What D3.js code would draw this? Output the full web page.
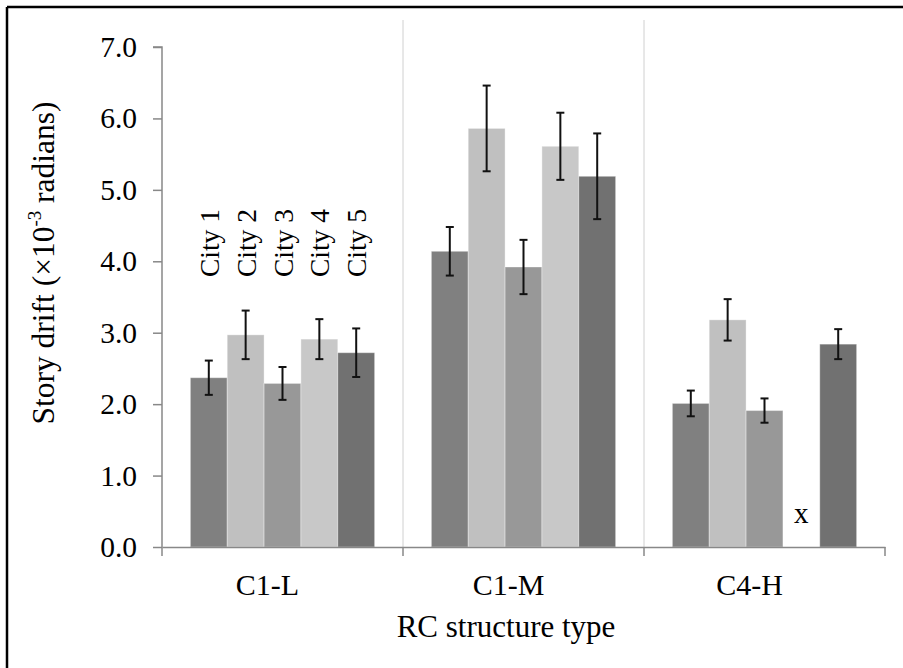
<!DOCTYPE html>
<html>
<head>
<meta charset="utf-8">
<script src="https://cdn.jsdelivr.net/npm/d3@7"></script>
<style>
  html, body { margin: 0; padding: 0; background: #fff; }
  svg { display: block; }
  text { font-family: "Liberation Serif", "Times New Roman", serif; fill: #000; }
</style>
</head>
<body>
<svg id="chart" width="903" height="668"></svg>
<script>
// ---- data ----
const categories = ["C1-L", "C1-M", "C4-H"];
const cities = ["City 1", "City 2", "City 3", "City 4", "City 5"];
// mean story drift (x10^-3 rad), null = no data ("x")
const city1 = [2.37, 4.14, 2.01];
const city2 = [2.97, 5.86, 3.18];
const city3 = [2.29, 3.92, 1.91];
const city4 = [2.91, 5.61, null];
const city5 = [2.72, 5.19, 2.84];
// error bar half-widths
const err1 = [0.24, 0.34, 0.18];
const err2 = [0.34, 0.60, 0.29];
const err3 = [0.23, 0.38, 0.17];
const err4 = [0.28, 0.47, null];
const err5 = [0.34, 0.60, 0.21];
const yTicks = [0, 1, 2, 3, 4, 5, 6, 7];
const cityColors = ["#808080", "#c0c0c0", "#989898", "#c8c8c8", "#717171"];

const values = [city1, city2, city3, city4, city5];
const errors = [err1, err2, err3, err4, err5];

const rows = [];
categories.forEach((cat, ci) => {
  cities.forEach((city, si) => {
    rows.push({ cat, city, si, v: values[si][ci], e: errors[si][ci] });
  });
});

const svg = d3.select("#chart");
const serif = '"Liberation Serif", "Times New Roman", serif';

// frame (left & top edges visible)
svg.append("line").attr("x1", 7).attr("y1", 7).attr("x2", 903).attr("y2", 7)
  .attr("stroke", "#000").attr("stroke-width", 2.5);
svg.append("line").attr("x1", 7).attr("y1", 7).attr("x2", 7).attr("y2", 668)
  .attr("stroke", "#000").attr("stroke-width", 2.5);

const pLeft = 162, pRight = 885, pTop = 47, pBottom = 547;

const x = d3.scaleBand().domain(categories).range([pLeft, pRight]).paddingInner(0).paddingOuter(0);
const xc = d3.scaleBand().domain(cities).range([0, x.bandwidth()]).paddingInner(0).paddingOuter(0.77);
const y = d3.scaleLinear().domain([0, 7]).range([pBottom, pTop]);

// vertical separators between categories
svg.append("g").selectAll("line")
  .data(categories.slice(1))
  .join("line")
  .attr("x1", d => x(d)).attr("x2", d => x(d))
  .attr("y1", 20).attr("y2", pBottom)
  .attr("stroke", "#d0d0d0").attr("stroke-width", 1);

// bars
const valid = rows.filter(r => r.v != null);
svg.append("g").selectAll("rect")
  .data(valid)
  .join("rect")
  .attr("x", d => x(d.cat) + xc(d.city))
  .attr("width", xc.bandwidth())
  .attr("y", d => y(d.v))
  .attr("height", d => y(0) - y(d.v))
  .attr("fill", d => cityColors[d.si])
  .attr("stroke", "rgba(255,255,255,0.35)")
  .attr("stroke-width", 1);

// error bars
const eg = svg.append("g").attr("stroke", "#111").attr("stroke-width", 2);
valid.forEach(d => {
  const cx = x(d.cat) + xc(d.city) + xc.bandwidth() / 2;
  const y1 = y(d.v + d.e), y2 = y(d.v - d.e);
  eg.append("line").attr("x1", cx).attr("x2", cx).attr("y1", y1).attr("y2", y2);
  eg.append("line").attr("x1", cx - 4).attr("x2", cx + 4).attr("y1", y1).attr("y2", y1);
  eg.append("line").attr("x1", cx - 4).attr("x2", cx + 4).attr("y1", y2).attr("y2", y2);
});

// missing marker
rows.filter(r => r.v == null).forEach(d => {
  svg.append("text")
    .attr("x", x(d.cat) + xc(d.city) + xc.bandwidth() / 2)
    .attr("y", pBottom - 24)
    .attr("text-anchor", "middle")
    .style("font-family", serif)
    .attr("font-size", 29)
    .text("x");
});

// city labels above C1-L group
svg.append("g").selectAll("text")
  .data(cities)
  .join("text")
  .attr("transform", d => `translate(${x(categories[0]) + xc(d) + xc.bandwidth() / 2 + 10},277) rotate(-90)`)
  .style("font-family", serif)
  .attr("font-size", 27.5)
  .text(d => d);

// y axis
const yAxis = svg.append("g")
  .attr("transform", `translate(${pLeft},0)`)
  .call(d3.axisLeft(y).tickValues(yTicks).tickSize(9).tickPadding(16).tickFormat(d3.format(".1f")));
yAxis.select(".domain").attr("stroke", "#888").attr("stroke-width", 1.5).attr("d", `M-9,${pTop}H0V${pBottom}`);
yAxis.selectAll(".tick line").attr("stroke", "#888").attr("stroke-width", 1.5);
yAxis.selectAll(".tick text").attr("font-size", 29.5).style("font-family", serif).attr("fill", "#000");

// x axis
const xAxis = svg.append("g")
  .attr("transform", `translate(0,${pBottom})`)
  .call(d3.axisBottom(x).tickSize(0).tickPadding(27));
xAxis.select(".domain").attr("stroke", "#888").attr("stroke-width", 1.5);
xAxis.selectAll(".tick text").attr("font-size", 30).attr("dx", -15).style("font-family", serif).attr("fill", "#000");
const bounds = categories.map(c => x(c)).concat([x(categories[categories.length - 1]) + x.bandwidth()]);
xAxis.append("g").selectAll("line")
  .data(bounds)
  .join("line")
  .attr("x1", d => d).attr("x2", d => d)
  .attr("y1", 0).attr("y2", 9)
  .attr("stroke", "#888").attr("stroke-width", 1.5);

// axis titles
svg.append("text")
  .attr("x", 506).attr("y", 637)
  .attr("text-anchor", "middle")
  .style("font-family", serif)
  .attr("font-size", 31)
  .text("RC structure type");

const yt = svg.append("text")
  .attr("transform", "translate(54,263) rotate(-90)")
  .attr("text-anchor", "middle")
  .style("font-family", serif)
  .attr("font-size", 31.5);
yt.append("tspan").text("Story drift (\u00d710");
yt.append("tspan").attr("font-size", 19).attr("dy", -13).text("-3");
yt.append("tspan").attr("dy", 13).text(" radians)");
</script>
</body>
</html>
